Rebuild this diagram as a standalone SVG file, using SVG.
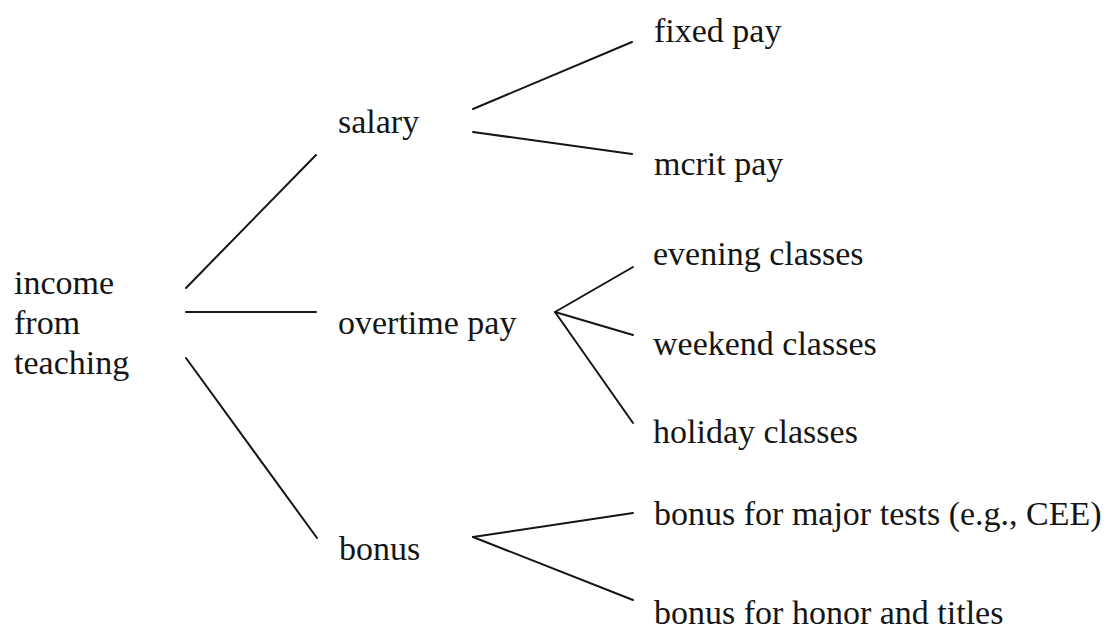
<svg xmlns="http://www.w3.org/2000/svg" width="1116" height="629" viewBox="0 0 1116 629">
<style>
text{font-family:"Liberation Serif","Times New Roman",serif;font-size:34px;fill:#151515}
.c line{stroke:#151515;stroke-width:2;stroke-linecap:round}
</style>
<rect width="1116" height="629" fill="#fff"/>
<g class="c" id="connectors">
<line x1="186" y1="288" x2="316" y2="155"/>
<line x1="186" y1="312" x2="316" y2="312"/>
<line x1="186" y1="358" x2="317" y2="538"/>
<line x1="473" y1="109" x2="632" y2="42"/>
<line x1="473" y1="132" x2="632" y2="154"/>
<line x1="555" y1="312" x2="633" y2="267"/>
<line x1="555" y1="312" x2="633" y2="335"/>
<line x1="555" y1="312" x2="633" y2="423"/>
<line x1="473" y1="537" x2="633" y2="513"/>
<line x1="473" y1="537" x2="633" y2="600"/>
</g>
<g id="root"><text x="14" y="294">income</text><text x="14" y="334">from</text><text x="14" y="374">teaching</text></g>
<g id="salary"><text x="338" y="133">salary</text></g>
<g id="overtime"><text x="338" y="334">overtime pay</text></g>
<g id="bonus"><text x="339" y="560">bonus</text></g>
<g id="fixed"><text x="654" y="42">fixed pay</text></g>
<g id="merit"><text x="654" y="175">mcrit pay</text></g>
<g id="evening"><text x="653" y="265">evening classes</text></g>
<g id="weekend"><text x="653" y="355">weekend classes</text></g>
<g id="holiday"><text x="653" y="443">holiday classes</text></g>
<g id="major"><text x="654" y="525">bonus for major tests (e.g., CEE)</text></g>
<g id="honor"><text x="654" y="624">bonus for honor and titles</text></g>
</svg>
